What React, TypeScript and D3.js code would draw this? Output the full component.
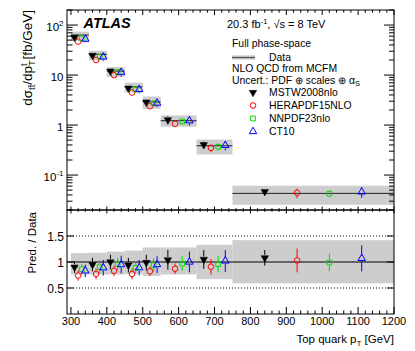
import React from 'react';
import * as d3 from 'd3';

// ---- data ----
const binEdges = [300, 350, 400, 450, 500, 550, 650, 750, 1200];
const dataValues = [63, 26, 12, 5.8, 2.9, 1.22, 0.385, 0.043];
const dataUncUp = [0.17, 0.18, 0.2, 0.22, 0.28, 0.28, 0.33, 0.42];
const dataUncDown = [0.24, 0.24, 0.24, 0.23, 0.27, 0.24, 0.33, 0.41];

const mstwRatio = [0.9, 0.95, 1.0, 0.94, 0.99, 1.04, 1.05, 1.08];
const mstwErr = [0.11, 0.13, 0.14, 0.14, 0.15, 0.19, 0.18, 0.15];
const heraRatio = [0.74, 0.77, 0.83, 0.77, 0.82, 0.87, 0.91, 1.03];
const heraErr = [0.1, 0.1, 0.1, 0.1, 0.09, 0.1, 0.15, 0.23];
const nnpdfRatio = [0.86, 0.9, 0.96, 0.89, 0.94, 0.97, 0.96, 0.99];
const nnpdfErr = [0.1, 0.13, 0.12, 0.12, 0.13, 0.14, 0.16, 0.17];
const ct10Ratio = [0.83, 0.89, 0.95, 0.89, 0.95, 1.0, 1.02, 1.07];
const ct10Err = [0.12, 0.15, 0.17, 0.15, 0.16, 0.2, 0.21, 0.25];

const seriesNames = ['MSTW2008nlo', 'HERAPDF15NLO', 'NNPDF23nlo', 'CT10'];
const xTicks = [300, 400, 500, 600, 700, 800, 900, 1000, 1100, 1200];
const ratioTicks = [0.5, 1, 1.5];

// ---- layout ----
const W = 415, H = 351;
const L = 67, R = 394, T1 = 10, B1 = 210, T2 = 210, B2 = 314;
const FONT = 'Liberation Sans, Arial, Helvetica, sans-serif';

const x = d3.scaleLinear().domain([289, 1200]).range([L, R]);
const yTop = d3.scaleLog().domain([0.02, 200]).range([B1, T1]);
const yRat = d3.scaleLinear().domain([0, 2]).range([B2, T2]);

const series = [
  { name: seriesNames[0], ratio: mstwRatio, err: mstwErr, color: '#000000', shape: 'tridown', frac: 0.2 },
  { name: seriesNames[1], ratio: heraRatio, err: heraErr, color: '#ff0000', shape: 'circle', frac: 0.4 },
  { name: seriesNames[2], ratio: nnpdfRatio, err: nnpdfErr, color: '#00dd00', shape: 'square', frac: 0.6 },
  { name: seriesNames[3], ratio: ct10Ratio, err: ct10Err, color: '#0000ff', shape: 'triup', frac: 0.8 },
];

const bins = dataValues.map((v, i) => ({ lo: binEdges[i], hi: binEdges[i + 1], v, up: dataUncUp[i], dn: dataUncDown[i] }));

function Marker({ shape, cx, cy, color }: { shape: string; cx: number; cy: number; color: string }) {
  if (shape === 'circle') {
    return <circle cx={cx} cy={cy} r={2.8} fill="none" stroke={color} strokeWidth={1} />;
  }
  if (shape === 'square') {
    const p = d3.symbol(d3.symbolSquare, 22)() as string;
    return <path d={p} transform={`translate(${cx},${cy})`} fill="none" stroke={color} strokeWidth={1} />;
  }
  const p = d3.symbol(d3.symbolTriangle, 24)() as string;
  if (shape === 'tridown') {
    return <path d={p} transform={`translate(${cx},${cy}) rotate(180)`} fill={color} stroke={color} strokeWidth={0.5} />;
  }
  return <path d={p} transform={`translate(${cx},${cy})`} fill="none" stroke={color} strokeWidth={1} />;
}

function ErrBar({ cx, cy, y1, y2, color, gap }: { cx: number; cy: number; y1: number; y2: number; color: string; gap: number }) {
  const top = Math.min(y1, y2), bot = Math.max(y1, y2);
  return (
    <g stroke={color} strokeWidth={1}>
      {top < cy - gap && <line x1={cx} x2={cx} y1={top} y2={cy - gap} />}
      {bot > cy + gap && <line x1={cx} x2={cx} y1={cy + gap} y2={bot} />}
    </g>
  );
}

export default function App() {
  const xMinor = d3.range(300, 1201, 20).filter((t) => t % 100 !== 0);
  const yMinor: number[] = [];
  [0.01, 0.1, 1, 10, 100].forEach((d) => {
    for (let k = 2; k <= 9; k++) {
      const v = d * k;
      if (v >= 0.02 && v <= 200) yMinor.push(v);
    }
  });
  const yMajor = [0.1, 1, 10, 100];
  const yMajorLabels = [
    { v: 0.1, base: '10', sup: '-1' },
    { v: 1, base: '1', sup: '' },
    { v: 10, base: '10', sup: '' },
    { v: 100, base: '10', sup: '2' },
  ];

  return (
    <svg width={W} height={H} style={{ position: 'absolute', left: 0, top: 0, background: '#fff' }} fontFamily={FONT}>
      <rect x={0} y={0} width={W} height={H} fill="#fff" />

      {/* ---------- TOP PANEL ---------- */}
      <g>
        {bins.map((b, i) => (
          <rect key={'tb' + i} x={x(b.lo)} width={x(b.hi) - x(b.lo)}
            y={yTop(b.v * (1 + b.up))} height={yTop(b.v * (1 - b.dn)) - yTop(b.v * (1 + b.up))} fill="#cdcdcd" />
        ))}
        {bins.map((b, i) => (
          <line key={'tl' + i} x1={x(b.lo)} x2={x(b.hi)} y1={yTop(b.v)} y2={yTop(b.v)} stroke="#222" strokeWidth={1} />
        ))}
        {series.map((s) => (
          <g key={'ts' + s.name}>
            {bins.map((b, i) => {
              const cx = x(b.lo + s.frac * (b.hi - b.lo));
              const cy = yTop(b.v * s.ratio[i]);
              return (
                <g key={i}>
                  <ErrBar cx={cx} cy={cy} y1={yTop(b.v * (s.ratio[i] + s.err[i]))} y2={yTop(b.v * (s.ratio[i] - s.err[i]))} color={s.color} gap={3} />
                  <Marker shape={s.shape} cx={cx} cy={cy} color={s.color} />
                </g>
              );
            })}
          </g>
        ))}
      </g>

      {/* ---------- BOTTOM PANEL ---------- */}
      <g>
        {bins.map((b, i) => (
          <rect key={'bb' + i} x={x(b.lo)} width={x(b.hi) - x(b.lo)}
            y={yRat(1 + b.up)} height={yRat(1 - b.dn) - yRat(1 + b.up)} fill="#cdcdcd" />
        ))}
        {[0.5, 1.5].map((v) => (
          <line key={'dl' + v} x1={L} x2={R} y1={yRat(v)} y2={yRat(v)} stroke="#000" strokeWidth={1} strokeDasharray="1,2" />
        ))}
        <line x1={L} x2={R} y1={yRat(1)} y2={yRat(1)} stroke="#000" strokeWidth={1} />
        {series.map((s) => (
          <g key={'bs' + s.name}>
            {bins.map((b, i) => {
              const cx = x(b.lo + s.frac * (b.hi - b.lo));
              const cy = yRat(s.ratio[i]);
              return (
                <g key={i}>
                  <ErrBar cx={cx} cy={cy} y1={yRat(s.ratio[i] + s.err[i])} y2={yRat(s.ratio[i] - s.err[i])} color={s.color} gap={3} />
                  <Marker shape={s.shape} cx={cx} cy={cy} color={s.color} />
                </g>
              );
            })}
          </g>
        ))}
      </g>

      {/* ---------- FRAMES & TICKS ---------- */}
      <g stroke="#000" strokeWidth={1} fill="none">
        <rect x={L} y={T1} width={R - L} height={B1 - T1} />
        <rect x={L} y={T2} width={R - L} height={B2 - T2} />
        {xTicks.map((t) => (
          <g key={'xt' + t}>
            <line x1={x(t)} x2={x(t)} y1={T1} y2={T1 + 5} />
            <line x1={x(t)} x2={x(t)} y1={B1 - 3.5} y2={B1 + 3.5} />
            <line x1={x(t)} x2={x(t)} y1={B2} y2={B2 - 7} />
          </g>
        ))}
        {xMinor.map((t) => (
          <g key={'xm' + t}>
            <line x1={x(t)} x2={x(t)} y1={T1} y2={T1 + 2.7} />
            <line x1={x(t)} x2={x(t)} y1={B1 - 1.8} y2={B1 + 1.8} />
            <line x1={x(t)} x2={x(t)} y1={B2} y2={B2 - 3.5} />
          </g>
        ))}
        {yMajor.map((v) => (
          <g key={'ym' + v}>
            <line x1={L} x2={L + 11} y1={yTop(v)} y2={yTop(v)} />
            <line x1={R} x2={R - 10} y1={yTop(v)} y2={yTop(v)} />
          </g>
        ))}
        {yMinor.map((v) => (
          <g key={'yn' + v}>
            <line x1={L} x2={L + 5.5} y1={yTop(v)} y2={yTop(v)} />
            <line x1={R} x2={R - 5} y1={yTop(v)} y2={yTop(v)} />
          </g>
        ))}
        {ratioTicks.map((v) => (
          <g key={'rt' + v}>
            <line x1={L} x2={L + 7} y1={yRat(v)} y2={yRat(v)} />
            <line x1={R} x2={R - 7} y1={yRat(v)} y2={yRat(v)} />
          </g>
        ))}
      </g>

      {/* ---------- TICK LABELS ---------- */}
      <g fontSize={11} textAnchor="middle" fill="#000">
        {xTicks.map((t) => (
          <text key={'xl' + t} x={x(t)} y={325}>{t}</text>
        ))}
      </g>
      <g fontSize={11.5} textAnchor="end" fill="#000">
        {yMajorLabels.map((d) => (
          <text key={'yl' + d.v} x={63.5} y={yTop(d.v) + 5.5}>
            {d.base}
            {d.sup && <tspan fontSize={8} dy={-5}>{d.sup}</tspan>}
          </text>
        ))}
      </g>
      <g fontSize={12} textAnchor="end" fill="#000">
        {ratioTicks.map((v) => (
          <text key={'rl' + v} x={64} y={yRat(v) + 4.5}>{String(v)}</text>
        ))}
      </g>

      {/* ---------- AXIS TITLES ---------- */}
      <text transform={`translate(32,10) rotate(-90)`} textAnchor="end" fontSize={13.5}>
        dσ
        <tspan fontSize={9.5} dy={3}>t</tspan>
        <tspan fontSize={9.5}>t̄</tspan>
        <tspan dy={-3}>/dp</tspan>
        <tspan fontSize={9.5} dy={3}>T</tspan>
        <tspan fontSize={9.5} dx={-5.8} dy={-8}>t</tspan>
        <tspan dy={5}> [fb/GeV]</tspan>
      </text>
      <text transform={`translate(35.5,212) rotate(-90)`} textAnchor="end" fontSize={11.5}>Pred. / Data</text>
      <text x={R} y={343} textAnchor="end" fontSize={11.5}>
        Top quark p<tspan fontSize={8} dy={3}>T</tspan><tspan dy={-3}> [GeV]</tspan>
      </text>

      {/* ---------- LABELS ---------- */}
      <text x={83.5} y={28} fontSize={14.5} fontWeight="bold" fontStyle="italic">ATLAS</text>
      <text x={227} y={28} fontSize={11}>
        20.3 fb<tspan fontSize={7.5} dy={-4.5}>-1</tspan><tspan dy={4.5}>,  √s = 8 TeV</tspan>
      </text>

      {/* ---------- LEGEND ---------- */}
      <g fontSize={10.4}>
        <text x={232} y={47}>Full phase-space</text>
        <rect x={232} y={55.5} width={23} height={4} fill="#bdbdbd" />
        <line x1={232} x2={255} y1={57.5} y2={57.5} stroke="#555" strokeWidth={1} />
        <text x={269} y={60.5}>Data</text>
        <text x={232} y={72}>NLO QCD from MCFM</text>
        <text x={232} y={83.5}>
          Uncert.: PDF ⊕ scales ⊕ α<tspan fontSize={7.5} dy={2.5}>S</tspan>
        </text>
        {series.map((s, i) => (
          <g key={'lg' + s.name}>
            <Marker shape={s.shape} cx={253} cy={92.5 + i * 13} color={s.color} />
            <text x={269} y={96 + i * 13}>{s.name}</text>
          </g>
        ))}
      </g>
    </svg>
  );
}
